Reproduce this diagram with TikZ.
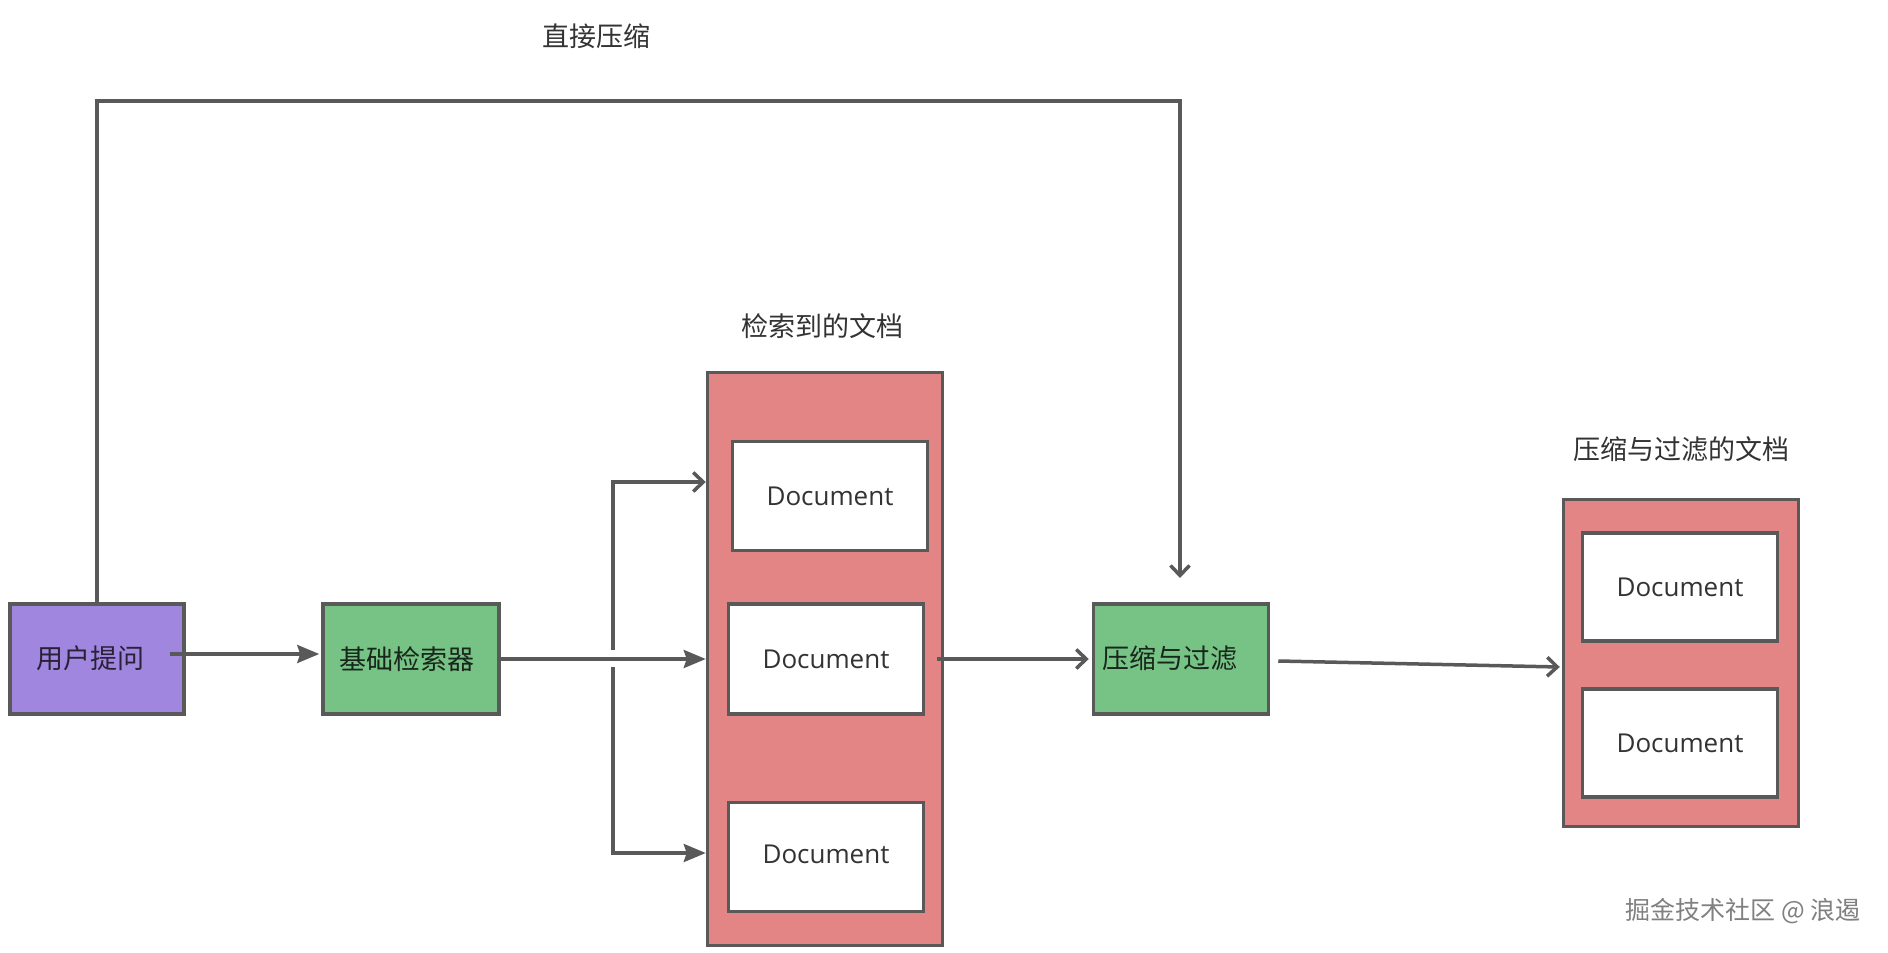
\documentclass[tikz,border=0pt]{standalone}
\usepackage{fontspec}
\setmainfont{Noto Sans CJK SC}
\newfontfamily\lat{Open Sans}
\usetikzlibrary{arrows.meta}
\definecolor{edge}{HTML}{595959}
\definecolor{purp}{HTML}{A086DE}
\definecolor{grn}{HTML}{77C386}
\definecolor{redb}{HTML}{E38584}
\definecolor{txt}{HTML}{333333}
\tikzset{
  box/.style={draw=edge, line width=3.5pt, rectangle, inner sep=0pt, text=txt,
    font=\fontsize{27pt}{32pt}\selectfont},
  docbox/.style={box, fill=white, minimum width=195pt, minimum height=109pt,
    font=\lat\fontsize{26pt}{31pt}\selectfont},
  lbl/.style={text=txt, inner sep=0pt, font=\fontsize{27pt}{32pt}\selectfont},
  conn/.style={draw=edge, line width=3.5pt},
  filled/.style={conn, -{Stealth[length=22pt,width=18pt,inset=3pt]}},
  open/.style={conn, -{Straight Barb[length=10pt,width=19pt]}},
}
\begin{document}
\begin{tikzpicture}[x=1pt,y=-1pt]
\useasboundingbox[fill=white] (0,0) rectangle (1888,953);

% labels
\node[lbl] (tdirect) at (596,36) {直接压缩};
\node[lbl] (tret) at (822,326) {检索到的文档};
\node[lbl] (tcomp) at (1681,449) {压缩与过滤的文档};
\node[inner sep=0pt, text=black!50, font=\fontsize{25pt}{29pt}\selectfont] (wm) at (1743,911) {掘金技术社区 @ 浪遏};

% boxes
\node[box, fill=purp, minimum width=174pt, minimum height=110pt, text=black!75!purp] (q) at (97,659) {\raisebox{3pt}{用户提问}\hspace*{14pt}};
\node[box, fill=grn, minimum width=176pt, minimum height=110pt, text=black!80!grn] (g1) at (411,659) {基础检索器\hspace*{8pt}};
\node[box, fill=redb, minimum width=235pt, minimum height=573pt] (r1) at (825,659) {};
\node[docbox] (d1) at (830,496) {Document};
\node[docbox, minimum height=110pt] (d2) at (826,659) {Document};
\node[docbox] (d3) at (826,857) {\raisebox{6pt}{Document}};
\node[box, fill=grn, minimum width=175pt, minimum height=110pt, text=black!80!grn] (g2) at (1181,659) {\raisebox{4pt}{压缩与过滤}\hspace*{22pt}};
\node[box, fill=redb, minimum width=235pt, minimum height=327pt] (r2) at (1681,663) {};
\node[docbox, minimum height=108pt] (da) at (1680,587) {\raisebox{-4pt}{Document}};
\node[docbox, minimum height=108pt] (db) at (1680,743) {Document};

% coordinates
\coordinate (tr) at (1180,101);
\coordinate (tip) at (1180,578);
\coordinate (bu) at (613,650);
\coordinate (bd) at (613,667);

% connectors
\draw[open] (q.north) |- (tr) -- (tip);
\draw[filled] ([shift={(-16,-5)}]q.east) -- ([shift={(-2,-5)}]g1.west);
\draw[filled] (g1.east) -- (r1.west |- g1.east);
\draw[open] (bu) |- ([shift={(0,-177)}]r1.west);
\draw[filled] (bd) |- ([shift={(0,194)}]r1.west);
\draw[open] ([shift={(12,0)}]d2.east) -- ([shift={(-3,0)}]g2.west);
\draw[open] ([shift={(8,2)}]g2.east) -- ([shift={(-2,4)}]r2.west);
\end{tikzpicture}
\end{document}
